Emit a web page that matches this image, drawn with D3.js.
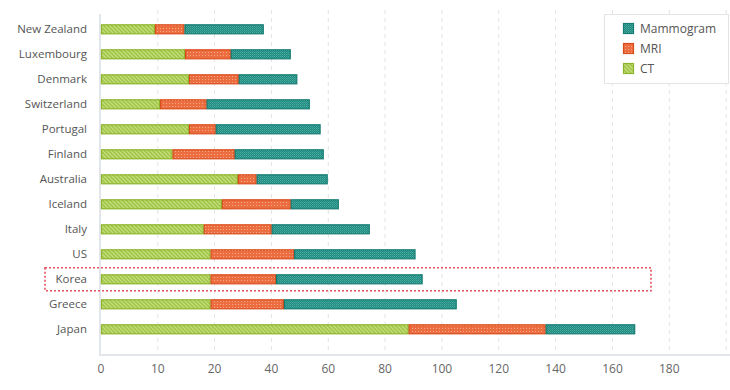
<!DOCTYPE html>
<html><head><meta charset="utf-8">
<script src="https://cdn.jsdelivr.net/npm/d3@7"></script>
<style>
html,body{margin:0;padding:0;background:#fff;}
svg text{font-family:"Open Sans","Noto Sans",sans-serif;}
</style></head>
<body><svg id="c" width="730" height="390"></svg>
<script>
const countries = ["New Zealand","Luxembourg","Denmark","Switzerland","Portugal","Finland","Australia","Iceland","Italy","US","Korea","Greece","Japan"];
const ct        = [9.5, 14.8, 15.5, 10.4, 15.5, 12.6, 28.2, 22.6, 18.1, 19.3, 19.3, 19.3, 88.3];
const mri       = [5.2, 10.9, 13.0, 8.2, 4.9, 14.5, 6.6, 24.2, 22.0, 28.7, 22.3, 25.1, 48.2];
const mammogram = [22.6, 21.1, 20.6, 34.9, 36.9, 31.3, 25.0, 16.9, 34.5, 42.7, 51.6, 60.8, 31.5];
const seriesNames = ["CT","MRI","Mammogram"];
const tickValues = [0,10,20,40,60,80,100,120,140,160,180];
const gridValues = [0,10,20,40,60,80,100,120,140,160,180,200];
const highlight = "Korea";

const svg = d3.select("#c");
const defs = svg.append("defs");

// patterns
const pCT = defs.append("pattern").attr("id","pCT").attr("patternUnits","userSpaceOnUse").attr("width",4).attr("height",4);
pCT.append("rect").attr("width",4).attr("height",4).attr("fill","#a2c647");
pCT.append("path").attr("d","M0,0L4,4M-1,3L1,5M3,-1L5,1").attr("stroke","#c9e086").attr("stroke-width",1.2);

const pMRI = defs.append("pattern").attr("id","pMRI").attr("patternUnits","userSpaceOnUse").attr("width",3).attr("height",3);
pMRI.append("rect").attr("width",3).attr("height",3).attr("fill","#ec6e40");
pMRI.append("rect").attr("x",1).attr("y",1).attr("width",1).attr("height",1).attr("fill","#f6ab88");

const pM = defs.append("pattern").attr("id","pM").attr("patternUnits","userSpaceOnUse").attr("width",2).attr("height",2);
pM.append("rect").attr("width",2).attr("height",2).attr("fill","#1e8b81");
pM.append("rect").attr("width",1).attr("height",1).attr("fill","#4fada4");
pM.append("rect").attr("x",1).attr("y",1).attr("width",1).attr("height",1).attr("fill","#3c9f96");

const fills = {CT:"url(#pCT)", MRI:"url(#pMRI)", Mammogram:"url(#pM)"};
const strokes = {CT:"#8db52c", MRI:"#d94c1c", Mammogram:"#157c72"};

const x = d3.scaleLinear().domain([0,20,180]).range([101,214.6,669.3]);
const y = d3.scaleBand().domain(countries).range([16.8,341.8]).paddingInner(0.6).paddingOuter(0.3);

// grid
svg.append("g").selectAll("line").data(gridValues.slice(1)).join("line")
  .attr("x1",d=>x(d)).attr("x2",d=>x(d)).attr("y1",10).attr("y2",354)
  .attr("stroke","#e3e3e3").attr("stroke-width",1).attr("stroke-dasharray","4,4");

// axes lines
svg.append("line").attr("x1",100).attr("x2",100).attr("y1",14).attr("y2",356).attr("stroke","#e2e5ea").attr("stroke-width",2);
svg.append("line").attr("x1",99).attr("x2",730).attr("y1",355).attr("y2",355).attr("stroke","#e2e5ea").attr("stroke-width",2);

// x tick labels
svg.append("g").selectAll("text").data(tickValues).join("text")
  .attr("x",d=>x(d)).attr("y",373).attr("text-anchor","middle")
  .attr("font-size",12).attr("fill","#666").text(d=>d);

// y labels
svg.append("g").selectAll("text").data(countries).join("text")
  .attr("x",87).attr("y",d=>y(d)+y.bandwidth()/2).attr("dy","0.35em").attr("text-anchor","end")
  .attr("font-size",11.5).attr("fill","#555").text(d=>d);

// stacked data
const rows = countries.map((c,i)=>({country:c, CT:ct[i], MRI:mri[i], Mammogram:mammogram[i]}));
const stack = d3.stack().keys(seriesNames)(rows);
const bh = 10;
svg.append("g").selectAll("g").data(stack).join("g")
  .each(function(s){
    d3.select(this).selectAll("rect").data(s).join("rect")
      .attr("x",d=>x(d[0])+0.5)
      .attr("y",d=>y(d.data.country)+y.bandwidth()/2-bh/2+0.5)
      .attr("width",d=>Math.max(0,x(d[1])-x(d[0])-1))
      .attr("height",bh-1)
      .attr("fill",fills[s.key]).attr("stroke",strokes[s.key]).attr("stroke-width",1.2);
  });

// highlight box
const hy = y(highlight)+y.bandwidth()/2;
svg.append("rect").attr("x",45).attr("y",hy-11.5).attr("width",606).attr("height",23)
  .attr("fill","none").attr("stroke","#e4505e").attr("stroke-width",1.6).attr("stroke-dasharray","2,2");

// legend
const lg = svg.append("g");
lg.append("rect").attr("x",604.5).attr("y",14.5).attr("width",124).attr("height",69)
  .attr("fill","#fff").attr("stroke","#e4e4e4");
const legendOrder = ["Mammogram","MRI","CT"];
legendOrder.forEach((k,i)=>{
  const yy = 29 + i*20;
  lg.append("rect").attr("x",623.5).attr("y",yy-5.5).attr("width",10).attr("height",10)
    .attr("fill",fills[k]).attr("stroke",strokes[k]).attr("stroke-width",1.2);
  lg.append("text").attr("x",640).attr("y",yy).attr("dy","0.35em").attr("font-size",12)
    .attr("fill","#555").text(k);
});
</script></body></html>
